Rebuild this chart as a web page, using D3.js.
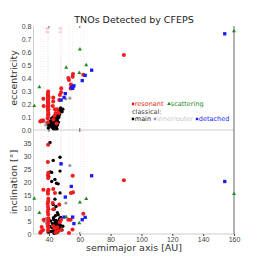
<!DOCTYPE html>
<html>
<head>
<meta charset="utf-8">
<script src="https://cdn.jsdelivr.net/npm/d3@7"></script>
<style>
  body { margin: 0; background: #fff; }
  svg { font-family: "DejaVu Sans", sans-serif; }
  .tick text { fill: #444; font-size: 7px; }
  .tick line { stroke: #444; }
</style>
</head>
<body>
<div id="chart"></div>
<script>
// resonance locations (AU) and the two labelled ones
let resLines = [34.9, 36.4, 39.4, 47.8, 53.0, 55.4, 60.8, 62.6];
let resLabels = ["3:2", "2:1"];
let resLabelA = [39.4, 47.8];

// resonant objects
let resA = [36.4, 36.6, 35.3, 36.2, 34.4, 35.0,
  39.5, 39.3, 39.6, 39.4, 39.5, 39.7, 39.3, 39.4, 39.6, 39.5, 39.2, 39.4, 39.6, 39.3, 39.5, 39.7, 39.4, 39.5, 39.3, 39.6, 39.4,
  42.8, 42.8, 42.5, 43.9, 45.4, 46.4, 42.9, 43.7, 44.3, 45.0,
  48.0, 47.9, 46.7, 47.1,
  53.0, 52.6, 55.4, 55.6, 54.3, 54.1, 55.3,
  62.3, 88.6];
let resE = [0.24, 0.185, 0.07, 0.075, 0.065, 0.07,
  0.295, 0.27, 0.245, 0.23, 0.205, 0.185, 0.17, 0.15, 0.13, 0.11, 0.09, 0.28, 0.26, 0.22, 0.19, 0.16, 0.25, 0.21, 0.18, 0.12, 0.06,
  0.25, 0.22, 0.185, 0.16, 0.16, 0.13, 0.08, 0.11, 0.13, 0.05,
  0.32, 0.29, 0.23, 0.27,
  0.385, 0.40, 0.41, 0.43, 0.35, 0.32, 0.33,
  0.425, 0.577];
let resI = [17.0, 5.5, 2.7, 1.5, 0.5, 1.0,
  34.3, 27.7, 23.5, 22.5, 21.5, 17.0, 16.3, 15.5, 13.5, 12.5, 11.6, 10.5, 9.5, 8.5, 7.5, 6.0, 5.0, 4.0, 3.0, 2.0, 1.3,
  17.3, 9.5, 11.9, 15.8, 2.6, 1.2, 3.0, 2.2, 0.5, 1.0,
  1.7, 5.5, 11.3, 4.5,
  0.4, 5.5, 22.4, 16.0, 15.8, 5.5, 1.7,
  7.8, 20.7];

// classical: main belt
let mainA = [40.7, 42.8, 47.2, 47.2, 41.8, 40.9, 41.8, 43.9, 44.9, 46.0, 47.2, 39.9, 43.9, 42.8, 43.4, 46.0, 44.6, 45.5,
  42.0, 42.3, 42.6, 42.9, 43.1, 43.3, 43.5, 43.6, 43.8, 43.9, 44.0, 44.1, 44.2, 44.3, 44.4, 44.5, 44.6, 44.7, 44.8, 44.9,
  45.0, 45.1, 45.2, 45.3, 45.4, 45.5, 45.6, 45.8, 45.9, 46.1, 46.3, 46.5, 46.7, 46.9, 47.1, 47.4, 47.6,
  43.0, 44.2, 41.5, 40.6, 41.2, 49.0, 48.5, 39.6, 44.0, 45.2, 43.4];
let mainE = [0.05, 0.10, 0.15, 0.14, 0.06, 0.07, 0.09, 0.11, 0.12, 0.13, 0.16, 0.04, 0.08, 0.07, 0.09, 0.12, 0.10, 0.11,
  0.02, 0.03, 0.04, 0.05, 0.02, 0.06, 0.03, 0.07, 0.04, 0.05, 0.01, 0.06, 0.03, 0.08, 0.05, 0.02, 0.07, 0.04, 0.09, 0.06,
  0.03, 0.10, 0.05, 0.08, 0.07, 0.12, 0.04, 0.09, 0.11, 0.06, 0.13, 0.10, 0.14, 0.12, 0.15, 0.16, 0.17,
  0.01, 0.02, 0.04, 0.03, 0.06, 0.16, 0.14, 0.015, 0.02, 0.01, 0.05];
let mainI = [35.2, 28.3, 29.5, 24.2, 23.7, 23.9, 20.2, 21.0, 19.5, 19.3, 15.8, 22.0, 13.4, 11.3, 9.5, 7.4, 10.6, 8.2,
  2.5, 4.0, 1.2, 3.2, 5.6, 2.1, 0.8, 3.8, 1.6, 2.9, 0.4, 4.6, 2.2, 1.1, 3.5, 2.6, 0.9, 5.2, 1.9, 3.1,
  1.4, 2.4, 4.1, 0.6, 2.8, 1.7, 3.6, 2.0, 4.8, 1.3, 2.6, 3.9, 1.8, 5.8, 2.3, 3.4, 6.4,
  6.3, 7.0, 1.0, 2.9, 5.0, 3.0, 1.5, 0.7, 1.8, 2.2, 0.3];

// classical: inner / outer
let ioA = [51.0, 53.6, 48.3, 37.0, 38.4, 39.4, 38.0];
let ioE = [0.24, 0.245, 0.23, 0.065, 0.05, 0.03, 0.04];
let ioI = [11.9, 26.3, 27.0, 4.8, 4.0, 23.0, 6.0];

// detached
let detA = [154, 67.7, 63.5, 61.6, 56.2, 55.4, 54.5, 50.6, 49.8, 47.8];
let detE = [0.74, 0.46, 0.42, 0.38, 0.34, 0.32, 0.33, 0.28, 0.25, 0.23];
let detI = [20.2, 22.4, 6.4, 5.5, 4.0, 6.5, 18.3, 14.2, 6.5, 27.0];

// scattering
let scatA = [33.8, 30.5, 51.2, 60.1, 59.7, 64.2, 160];
let scatE = [0.33, 0.185, 0.48, 0.62, 0.44, 0.50, 0.76];
let scatI = [8.1, 13.6, 6.5, 12.2, 4.2, 13.5, 15.4];

let xTicks = [40, 60, 80, 100, 120, 140, 160];
let eTicks = [0, 0.1, 0.2, 0.3, 0.4, 0.5, 0.6, 0.7, 0.8];
let iTicks = [0, 5, 10, 15, 20, 25, 30, 35];

let colors = {res: "#ee1c1c", main: "#000000", io: "#9a9a9a", det: "#1a1aff", scat: "#1f8a1f"};

let width = 261, height = 261;
let left = 33.5, right = 234;
let eTop = 26, eBottom = 130, iTop = 130, iBottom = 234;

let svg = d3.select("#chart").append("svg")
  .attr("width", width)
  .attr("height", height);

let x = d3.scaleLinear().domain([30, 160]).range([left, right]);
let yE = d3.scaleLinear().domain([0, 0.8]).range([eBottom, eTop]);
let yI = d3.scaleLinear().domain([0, 40]).range([iBottom, iTop]);

// resonance lines through both panels
svg.append("g").selectAll("line")
  .data(resLines)
  .enter()
  .append("line")
  .attr("x1", d => x(d)).attr("x2", d => x(d))
  .attr("y1", eTop).attr("y2", iBottom)
  .attr("stroke", "#f08080")
  .attr("stroke-width", 0.6)
  .attr("stroke-dasharray", "1,1.5")
  .attr("opacity", d => (d == 39.4 || d == 47.8) ? 0.6 : 0.3);

svg.append("g").selectAll("text")
  .data(resLabels)
  .enter()
  .append("text")
  .attr("transform", (d, k) => "translate(" + (x(resLabelA[k]) - 1.5) + "," + (eTop + 1) + ") rotate(90)")
  .attr("font-size", "4px")
  .attr("fill", "#f07070")
  .text(d => d);

// frames
function drawFrame(yTop, yBot) {
  svg.append("line").attr("x1", left).attr("x2", left).attr("y1", yTop).attr("y2", yBot)
    .attr("stroke", "#cccccc").attr("stroke-width", 1);
  svg.append("line").attr("x1", left).attr("x2", right).attr("y1", yBot).attr("y2", yBot)
    .attr("stroke", "#cccccc").attr("stroke-width", 1);
  svg.append("line").attr("x1", right).attr("x2", right).attr("y1", yTop).attr("y2", yBot)
    .attr("stroke", "#666666").attr("stroke-width", 1);
  // small inner x ticks
  [40, 60].forEach(t => {
    svg.append("line").attr("x1", x(t)).attr("x2", x(t)).attr("y1", yTop).attr("y2", yTop + 2)
      .attr("stroke", "#444").attr("stroke-width", 0.8);
    svg.append("line").attr("x1", x(t)).attr("x2", x(t)).attr("y1", yBot - 2).attr("y2", yBot)
      .attr("stroke", "#444").attr("stroke-width", 0.8);
  });
}
drawFrame(eTop, eBottom);
drawFrame(iTop, iBottom);

// axes
svg.append("g")
  .attr("transform", "translate(" + left + ",0)")
  .call(d3.axisLeft(yE).tickValues(eTicks).tickFormat(d3.format(".1f")).tickSize(0).tickPadding(2))
  .call(g => g.select(".domain").remove());

svg.append("g")
  .attr("transform", "translate(" + left + ",0)")
  .call(d3.axisLeft(yI).tickValues(iTicks).tickSize(0).tickPadding(2))
  .call(g => g.select(".domain").remove());

svg.append("g")
  .attr("transform", "translate(0," + iBottom + ")")
  .call(d3.axisBottom(x).tickValues(xTicks).tickSize(2).tickPadding(1))
  .call(g => g.select(".domain").remove());

// points
function zip(a, e, i) {
  return a.map((v, k) => ({a: v, e: e[k], i: i[k]}));
}
let groups = [
  {key: "io", data: zip(ioA, ioE, ioI), shape: d3.symbolCircle, size: 8},
  {key: "main", data: zip(mainA, mainE, mainI), shape: d3.symbolCircle, size: 9},
  {key: "res", data: zip(resA, resE, resI), shape: d3.symbolCircle, size: 13},
  {key: "det", data: zip(detA, detE, detI), shape: d3.symbolSquare, size: 11},
  {key: "scat", data: zip(scatA, scatE, scatI), shape: d3.symbolTriangle, size: 7}
];

groups.forEach(grp => {
  let sym = d3.symbol().type(grp.shape).size(grp.size);
  svg.append("g").selectAll("path")
    .data(grp.data)
    .enter()
    .append("path")
    .attr("d", sym)
    .attr("transform", d => "translate(" + x(d.a) + "," + yE(d.e) + ")")
    .attr("fill", colors[grp.key]);
  svg.append("g").selectAll("path")
    .data(grp.data)
    .enter()
    .append("path")
    .attr("d", sym)
    .attr("transform", d => "translate(" + x(d.a) + "," + yI(d.i) + ")")
    .attr("fill", colors[grp.key]);
});

// title and axis labels
svg.append("text")
  .attr("x", 134).attr("y", 23)
  .attr("text-anchor", "middle")
  .attr("font-size", "9.5px")
  .attr("fill", "#222")
  .text("TNOs Detected by CFEPS");

svg.append("text")
  .attr("transform", "translate(17," + ((eTop + eBottom) / 2) + ") rotate(-90)")
  .attr("text-anchor", "middle")
  .attr("font-size", "9.5px")
  .attr("fill", "#333")
  .text("eccentricity");

svg.append("text")
  .attr("transform", "translate(17," + ((iTop + iBottom) / 2) + ") rotate(-90)")
  .attr("text-anchor", "middle")
  .attr("font-size", "9.5px")
  .attr("fill", "#333")
  .text("inclination [°]");

svg.append("text")
  .attr("x", 134).attr("y", 251)
  .attr("text-anchor", "middle")
  .attr("font-size", "9.5px")
  .attr("fill", "#333")
  .text("semimajor axis [AU]");

// legend
let legend = svg.append("g").attr("font-size", "6.5px");
function legendItem(lx, ly, key, shape, label) {
  legend.append("path")
    .attr("d", d3.symbol().type(shape).size(6))
    .attr("transform", "translate(" + lx + "," + (ly - 2) + ")")
    .attr("fill", colors[key]);
  legend.append("text")
    .attr("x", lx + 1.8).attr("y", ly)
    .attr("fill", key == "io" ? "#c8c8c8" : key == "main" ? "#222" : colors[key])
    .text(label);
}
legendItem(133, 106, "res", d3.symbolCircle, "resonant");
legendItem(169, 106, "scat", d3.symbolTriangle, "scattering");
legend.append("text").attr("x", 132).attr("y", 114).attr("fill", "#444").text("classical:");
legendItem(133, 121, "main", d3.symbolCircle, "main");
legendItem(155, 121, "io", d3.symbolCircle, "inner/outer");
legendItem(197, 121, "det", d3.symbolSquare, "detached");
</script>
</body>
</html>
